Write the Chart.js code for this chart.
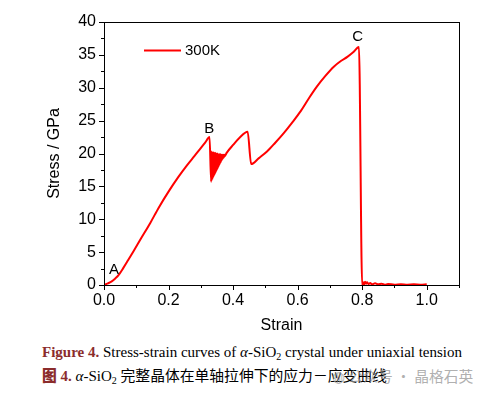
<!DOCTYPE html>
<html>
<head>
<meta charset="utf-8">
<script src="https://cdn.jsdelivr.net/npm/chart.js@4.4.0/dist/chart.umd.min.js"></script>
<style>
  body { margin: 0; background: #fff; }
  #wrap { position: relative; width: 490px; height: 399px; overflow: hidden; }
  canvas { position: absolute; left: 0; top: 0; }
  .cap { position: absolute; left: 42px; font-family: "Liberation Serif", "Times New Roman", serif; font-size: 15px; color: #000; white-space: nowrap; }
  .cap b { color: #8b2c2c; }
  .cap sub { font-size: 10px; vertical-align: -3px; line-height: 0; }
  .cjk { font-family: "Noto Sans CJK SC", sans-serif; font-size: 14.8px; }
  .fig { font-weight: 900; }
  #wm { position: absolute; left: 332px; top: 365px; font-family: "Noto Sans CJK SC", sans-serif; font-size: 14.8px; color: rgba(150,150,150,0.75); white-space: nowrap; }
</style>
</head>
<body>
<div id="wrap">
  <canvas id="stressChart" width="490" height="340"></canvas>
  <div class="cap" style="top:344px"><b>Figure 4.</b> Stress-strain curves of <i>α</i>-SiO<sub>2</sub> crystal under uniaxial tension</div>
  <div class="cap" style="top:364px"><b><span class="cjk fig">图</span> 4.</b> <i>α</i>-SiO<sub>2</sub> <span class="cjk">完整晶体在单轴拉伸下的应力－应变曲线</span></div>
  <div id="wm">◍ 公众号 · 晶格石英</div>
</div>
<script>
// Stress-strain curve
const strain = [0, 0.012, 0.024, 0.035, 0.045, 0.06, 0.075, 0.091, 0.115, 0.143, 0.17, 0.2, 0.23, 0.257, 0.28, 0.298, 0.314, 0.327,
  0.332, 0.3335, 0.335, 0.3365, 0.338, 0.3395, 0.341, 0.3425, 0.344, 0.3455, 0.347, 0.3485, 0.35, 0.3515, 0.353,
  0.3545, 0.356, 0.3575, 0.359, 0.3605, 0.362, 0.3635, 0.365, 0.3665, 0.368, 0.3695, 0.371, 0.3725, 0.374,
  0.38, 0.4, 0.42, 0.445, 0.456, 0.48, 0.505, 0.53, 0.557, 0.583, 0.609, 0.635, 0.66, 0.686, 0.712, 0.735, 0.754, 0.772, 0.79,
  0.8, 0.803, 0.806, 0.809, 0.812, 0.815, 0.82, 0.825, 0.83, 0.84, 0.85, 0.86, 0.87, 0.88, 0.9, 0.92, 0.94, 0.96, 0.98, 1.0];
const stress = [0, 0.25, 0.55, 1.0, 1.5, 2.6, 3.8, 5.1, 7.1, 9.4, 11.8, 14.2, 16.4, 18.2, 19.6, 20.7, 21.7, 22.5,
  15.7, 20.3, 16.0, 20.2, 16.3, 20.2, 16.6, 20.1, 16.9, 20.1, 17.2, 20.0, 17.5, 20.0, 17.8,
  19.9, 18.1, 19.9, 18.4, 19.9, 18.7, 19.8, 19.0, 19.8, 19.2, 19.8, 19.4, 19.8, 19.6,
  20.1, 21.3, 22.4, 23.3, 18.4, 19.3, 20.3, 21.6, 23.1, 24.7, 26.4, 28.4, 30.2, 31.8, 33.2, 34.1, 34.7, 35.4, 36.2,
  0, 0.4, 0.1, 0.5, 0.2, 0.4, 0.15, 0.3, 0.1, 0.25, 0.1, 0.2, 0.05, 0.15, 0.05, 0.12, 0.05, 0.1, 0.05, 0.1];

// Point labels A, B, C
const markNames = ['A', 'B', 'C'];
const markStrain = [0.031, 0.326, 0.786];
const markStress = [2.3, 23.7, 37.7];

const seriesName = '300K';
const lineColor = '#ff0000';

// frame, outward ticks (major longer than minor), letters and legend
const tickPlugin = {
  id: 'ticks',
  afterDraw(chart) {
    const ctx = chart.ctx;
    const area = chart.chartArea;
    ctx.save();
    ctx.strokeStyle = '#000';
    ctx.lineWidth = 1;
    ctx.strokeRect(area.left + 0.5, area.top + 0.5, area.right - area.left, area.bottom - area.top);

    const xs = chart.scales.x;
    xs.ticks.forEach(t => {
      const px = Math.round(xs.getPixelForValue(t.value)) + 0.5;
      const major = Math.round(t.value * 10) % 2 === 0;
      ctx.beginPath();
      ctx.moveTo(px, area.bottom);
      ctx.lineTo(px, area.bottom + (major ? 5 : 3));
      ctx.stroke();
    });
    const ys = chart.scales.y;
    ys.ticks.forEach(t => {
      const py = Math.round(ys.getPixelForValue(t.value)) + 0.5;
      const major = t.value % 5 === 0;
      ctx.beginPath();
      ctx.moveTo(area.left, py);
      ctx.lineTo(area.left - (major ? 5 : 3), py);
      ctx.stroke();
    });

    ctx.fillStyle = '#000';
    ctx.font = '15px "Liberation Sans", Arial, sans-serif';
    ctx.textAlign = 'center';
    ctx.textBaseline = 'middle';
    markNames.forEach((m, i) => {
      ctx.fillText(m, xs.getPixelForValue(markStrain[i]), ys.getPixelForValue(markStress[i]));
    });

    ctx.strokeStyle = lineColor;
    ctx.lineWidth = 2;
    ctx.beginPath();
    ctx.moveTo(144, 50.5);
    ctx.lineTo(181, 50.5);
    ctx.stroke();
    ctx.textAlign = 'left';
    ctx.fillText(seriesName, 185, 50.5);
    ctx.restore();
  }
};

const points = strain.map((s, i) => ({ x: s, y: stress[i] }));

new Chart(document.getElementById('stressChart'), {
  type: 'scatter',
  data: {
    datasets: [{
      label: seriesName,
      data: points,
      showLine: true,
      borderColor: lineColor,
      borderWidth: 2,
      pointRadius: 0,
      cubicInterpolationMode: 'monotone'
    }]
  },
  options: {
    responsive: false,
    animation: false,
    layout: { padding: { left: 0, top: 22, right: 31, bottom: 0 } },
    plugins: { legend: { display: false }, tooltip: { enabled: false } },
    scales: {
      x: {
        type: 'linear',
        min: 0,
        max: 1.1,
        afterFit: s => { s.height = 55; },
        grid: { display: false, drawTicks: true, tickLength: 5 },
        border: { display: true, color: '#000' },
        ticks: {
          stepSize: 0.1,
          color: '#000',
          font: { family: '"Liberation Sans", Arial', size: 16 },
          padding: 1,
          maxRotation: 0,
          autoSkip: false,
          callback: v => (Math.round(v * 10) % 2 === 0 && v < 1.05) ? v.toFixed(1) : ''
        },
        title: {
          display: true,
          text: 'Strain',
          color: '#000',
          font: { family: '"Liberation Sans", Arial', size: 16 },
          padding: { top: 0, bottom: 5 }
        }
      },
      y: {
        min: 0,
        max: 40,
        afterFit: s => { s.width = 104; },
        grid: { display: false, drawTicks: true, tickLength: 5 },
        border: { display: true, color: '#000' },
        ticks: {
          stepSize: 2.5,
          color: '#000',
          font: { family: '"Liberation Sans", Arial', size: 16 },
          padding: 3,
          autoSkip: false,
          callback: v => v % 5 === 0 ? String(v) : ''
        },
        title: {
          display: true,
          text: 'Stress / GPa',
          color: '#000',
          font: { family: '"Liberation Sans", Arial', size: 16 },
          padding: { top: 45, bottom: 0 }
        }
      }
    }
  },
  plugins: [tickPlugin]
});
</script>
</body>
</html>
